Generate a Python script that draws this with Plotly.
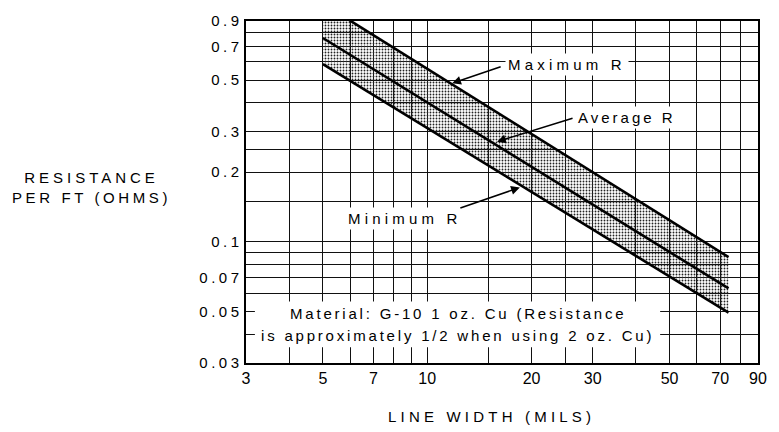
import math
import plotly.graph_objects as go

# ---- data ----
line_width_mils = [5, 74]
max_r = [1.07, 0.086]
avg_r = [0.76, 0.063]
min_r = [0.586, 0.0495]

x_major = [3, 5, 7, 10, 20, 30, 50, 70, 90]
x_labels = ["3", "5", "7", "10", "20", "30", "50", "70", "90"]
x_minor = [4, 6, 8, 9, 15, 25, 40, 60, 80]
y_major = [0.03, 0.05, 0.07, 0.1, 0.2, 0.3, 0.5, 0.7, 0.9]
y_labels = ["0.03", "0.05", "0.07", "0.1", "0.2", "0.3", "0.5", "0.7", "0.9"]
y_minor = [0.04, 0.06, 0.08, 0.09, 0.15, 0.25, 0.4, 0.6, 0.8]

FONT = "Liberation Sans"


def sp(t, ls=3.0):
    return f'<span style="letter-spacing:{ls}px">{t}</span>'


def sp_tick(t, ls):
    # spacing between characters only (no trailing gap after the last one)
    if len(t) < 2:
        return t
    return sp(t[:-1], ls) + t[-1]


fig = go.Figure()
fig.add_trace(go.Scatter(x=line_width_mils, y=min_r, mode="lines",
                         line=dict(color="black", width=2.6), showlegend=False))
fig.add_trace(go.Scatter(x=line_width_mils, y=max_r, mode="lines", fill="tonexty",
                         fillcolor="rgba(0,0,0,0)",
                         fillpattern=dict(shape=".", fgcolor="#222", bgcolor="rgba(0,0,0,0)",
                                          size=3, solidity=0.3, fillmode="replace"),
                         line=dict(color="black", width=2.6), showlegend=False))
fig.add_trace(go.Scatter(x=line_width_mils, y=avg_r, mode="lines",
                         line=dict(color="black", width=2.6), showlegend=False))

grid = dict(showgrid=True, gridcolor="#111", gridwidth=1.3)
fig.update_xaxes(type="log", range=[math.log10(3), math.log10(90)],
                 tickmode="array", tickvals=x_major, ticktext=x_labels,
                 ticks="", ticklabelstandoff=0,
                 showline=True, linecolor="black", linewidth=2, mirror=True,
                 minor=dict(tickmode="array", tickvals=x_minor, ticks="", **grid),
                 tickfont=dict(family=FONT, size=16, color="black"), zeroline=False, **grid)
fig.update_yaxes(type="log", range=[math.log10(0.03), math.log10(0.9)],
                 tickmode="array", tickvals=y_major,
                 ticktext=[sp_tick(t, 3.5) for t in y_labels],
                 ticks="", ticklabelstandoff=2,
                 showline=True, linecolor="black", linewidth=2, mirror=True,
                 minor=dict(tickmode="array", tickvals=y_minor, ticks="", **grid),
                 tickfont=dict(family=FONT, size=15, color="black"), zeroline=False, **grid)

W, H = 779, 432
L, R, T, B = 246, 15, 13, 69
pw, ph = W - L - R, H - T - B


def px(xp):
    return (xp - L) / pw


def py(yp):
    return (H - B - yp) / ph


# white box behind the material note
fig.add_shape(type="rect", xref="paper", yref="paper",
              x0=px(255), x1=px(665), y0=py(347), y1=py(300),
              fillcolor="white", line=dict(width=0), layer="above")

tfont = dict(family=FONT, size=15, color="black")
ann = []
# labels with white backgrounds
for text, cx, cy, ls in [("Maximum R", 571, 57.5, 4.2), ("Average R", 631, 112, 3.0),
                         ("Minimum R", 407, 215, 4.2)]:
    ann.append(dict(text=sp(text, ls), xref="paper", yref="paper", x=px(cx), y=py(cy),
                    showarrow=False, bgcolor="white", borderpad=2, font=tfont,
                    xanchor="center", yanchor="middle"))
# arrows: tip in data coords, tail as pixel offsets
for tipx, tipy, ax, ay in [(11.8, 0.485, 50, -17), (15.9, 0.271, 77, -24), (18.5, 0.172, -61, 21)]:
    ann.append(dict(text="", x=math.log10(tipx), y=math.log10(tipy), xref="x", yref="y",
                    ax=ax, ay=ay, showarrow=True, arrowhead=2, arrowsize=1.1,
                    arrowwidth=1.6, arrowcolor="black"))
for text, cx, cy in [("Material: G-10 1 oz. Cu (Resistance", 460, 312),
                     ("is approximately 1/2 when using 2 oz. Cu)", 460, 335)]:
    ann.append(dict(text=sp(text, 2.8), xref="paper", yref="paper", x=px(cx), y=py(cy),
                    showarrow=False, font=tfont, xanchor="center", yanchor="middle"))
ann.append(dict(text=sp("RESISTANCE", 4.0) + "<br>" + sp("PER FT (OHMS)", 3.6),
                xref="paper", yref="paper", x=px(90), y=py(183), showarrow=False,
                font=tfont, xanchor="center", yanchor="middle", align="center"))
ann.append(dict(text=sp("LINE WIDTH (MILS)", 4.2), xref="paper", yref="paper",
                x=px(494), y=py(418), showarrow=False, font=tfont,
                xanchor="center", yanchor="middle"))

fig.update_layout(width=W, height=H, margin=dict(l=L, r=R, t=T, b=B),
                  paper_bgcolor="white", plot_bgcolor="white", annotations=ann,
                  showlegend=False)
fig.write_html("out.html")
